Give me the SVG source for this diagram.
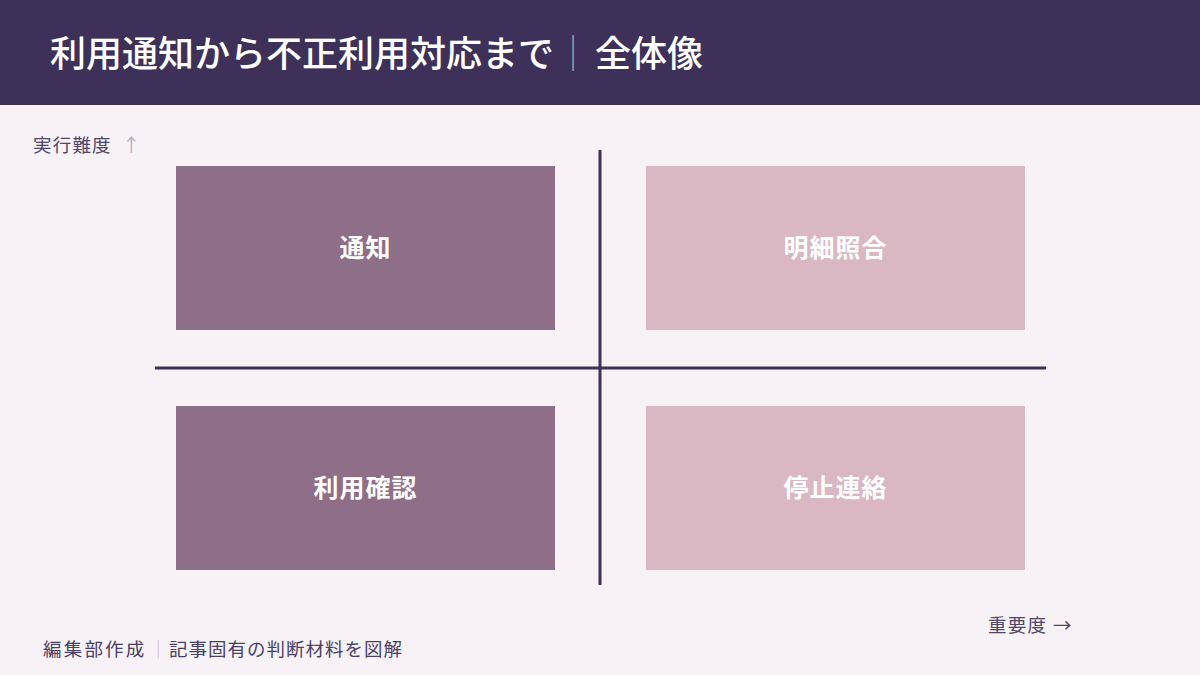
<svg xmlns="http://www.w3.org/2000/svg" width="1200" height="675" viewBox="0 0 1200 675">
<style>
.t{font-family:"Noto Sans CJK JP","Noto Sans",sans-serif}
.title{font-size:36px;font-weight:500;fill:#ffffff}
.sep{fill:#ffffff;fill-opacity:0.55;font-weight:300}
.node{font-size:25px;font-weight:700;fill:#ffffff;text-anchor:middle;letter-spacing:1px}
.dark{fill:#8f6e87}
.light{fill:#d9b7c3}
.axis{stroke:#3d3159;stroke-width:3;fill:none}
.lab{font-size:18.5px;fill:#4f4566;letter-spacing:1.2px}
.foot{font-size:18.5px;fill:#4a3f66}
</style>
<rect x="0" y="0" width="1200" height="675" fill="#f6f2f6"/>
<g id="header">
<rect x="0" y="0" width="1200" height="105" fill="#3d3159"/>
<text class="t title" y="67"><tspan x="50">利用通知から不正利用対応まで</tspan><tspan class="sep" x="573" text-anchor="middle">｜</tspan><tspan x="595">全体像</tspan></text>
</g>
<g id="connectors">
<line class="axis" x1="600" y1="150" x2="600" y2="585"/>
<line class="axis" x1="155" y1="368" x2="1046" y2="368"/>
</g>
<g id="node-notice">
<rect class="dark" x="176" y="166" width="379" height="164"/>
<text class="t node" x="365.5" y="257">通知</text>
</g>
<g id="node-statement">
<rect class="light" x="646" y="166" width="379" height="164"/>
<text class="t node" x="835.5" y="257">明細照合</text>
</g>
<g id="node-confirm">
<rect class="dark" x="176" y="406" width="379" height="164"/>
<text class="t node" x="365.5" y="497">利用確認</text>
</g>
<g id="node-stop">
<rect class="light" x="646" y="406" width="379" height="164"/>
<text class="t node" x="835.5" y="497">停止連絡</text>
</g>
<g id="labels">
<text class="t lab" y="152"><tspan x="33">実行難度</tspan><tspan x="122" fill="#b4a9c0">↑</tspan></text>
<text class="t lab" y="632" fill="#3d3159"><tspan x="988">重要度</tspan><tspan x="1053">→</tspan></text>
<text class="t foot" y="656"><tspan x="43" letter-spacing="2.2">編集部作成</tspan><tspan x="149" fill="#c9c0d0">｜</tspan><tspan x="169" letter-spacing="1">記事固有の判断材料を図解</tspan></text>
</g>
</svg>
